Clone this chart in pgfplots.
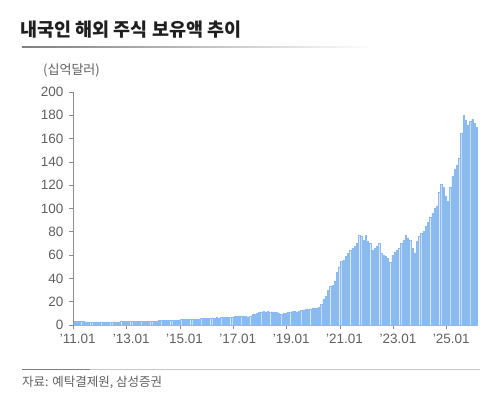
\documentclass[border=0pt]{standalone}
\usepackage{fontspec}
\setmainfont{Liberation Sans}
\newfontfamily\kr{Noto Sans CJK KR}
\usepackage{pgfplots}
\pgfplotsset{compat=1.18}
\definecolor{barfill}{HTML}{C4DDF8}
\definecolor{baredge}{HTML}{8ABAEE}
\definecolor{txtgray}{HTML}{606060}
\definecolor{axgray}{HTML}{8C8C8C}
\begin{document}
\begin{tikzpicture}
\useasboundingbox (-73.3bp,-72bp) rectangle (426.7bp,325bp);
\begin{axis}[
  at={(0,0)}, anchor=south west,
  x=2.223bp, y=1.165bp,
  xmin=0, xmax=181.7, ymin=0, ymax=200,
  axis lines*=left,
  axis line style={axgray, line width=0.6bp},
  ytick={0,20,...,200},
  xtick={0,24,...,168},
  xticklabels={'11.01,'13.01,'15.01,'17.01,'19.01,'21.01,'23.01,'25.01},
  tick align=outside, major tick length=4bp,
  tick style={axgray, line width=0.6bp},
  ticklabel style={font=\fontsize{13.5bp}{16bp}\selectfont, text=txtgray},
  /pgf/number format/assume math mode=true,
  yticklabel style={xshift=-2.5bp},
  xticklabel style={xshift=4.5bp, yshift=-2bp},
  ybar, bar width=1.3bp,
  clip=false,
]
\addplot[fill=barfill, draw=baredge, line width=0.2bp] table[x expr=\coordindex+0.5, y index=0, header=false] {
3.2
3.3
3.1
3.2
3.0
2.9
2.8
2.6
2.5
2.7
2.8
2.7
2.8
2.9
2.8
2.7
2.6
2.6
2.7
2.8
2.9
3.0
3.0
3.1
3.2
3.1
3.2
3.1
3.0
3.1
3.2
3.3
3.4
3.5
3.6
3.5
3.6
3.7
3.8
3.9
4.0
4.0
4.1
4.2
4.2
4.3
4.4
4.5
4.7
4.9
5.0
5.2
5.3
5.2
5.0
5.1
5.3
5.6
5.8
5.9
5.8
5.9
6.2
6.3
6.4
6.3
6.5
6.6
6.8
6.9
7.0
7.2
7.4
7.6
7.8
7.9
7.8
7.6
7.2
7.5
9.0
9.5
10.0
11.0
11.4
11.6
11.5
11.6
11.5
11.4
11.2
11.3
10.2
9.5
9.8
10.5
11.0
11.4
11.6
11.8
11.5
12.2
12.8
13.0
13.3
13.8
14.0
14.2
14.4
14.2
15.5
18
22
25
30
33
34
38
45
50
55
56
59
62
64
66
68
70
77
76
73
77
72
70
64
66
68
70
62
60
59
57
54
60
63
64
66
70
73
77
75
73
66
62
72
76
79
81
85
88
93
96
100
102
114
121
118
111
106
118
128
134
137
143
165
180
176
172
175
177
173
170
};
\end{axis}
% title
\node[anchor=west, inner sep=0pt, text=black!88] at (-53.3bp,295bp) {\kr\bfseries\fontsize{18.5bp}{22bp}\selectfont 내국인 해외 주식 보유액 추이};
\shade[left color=black!50, right color=white] (-51.3bp,277bp) rectangle (300bp,278.2bp);
% unit
\node[anchor=west, inner sep=0pt, text=txtgray] at (-30.3bp,255bp) {\kr\fontsize{13bp}{15bp}\selectfont (십억달러)};
% footer
\fill[black!22] (-51.3bp,-44.9bp) rectangle (406.7bp,-44.1bp);
\fill[black!50] (-51.3bp,-44.9bp) rectangle (16.7bp,-44.1bp);
\node[anchor=west, inner sep=0pt, text=txtgray] at (-51.3bp,-58bp) {\kr\fontsize{12.5bp}{15bp}\selectfont 자료: 예탁결제원, 삼성증권};
\end{tikzpicture}
\end{document}
